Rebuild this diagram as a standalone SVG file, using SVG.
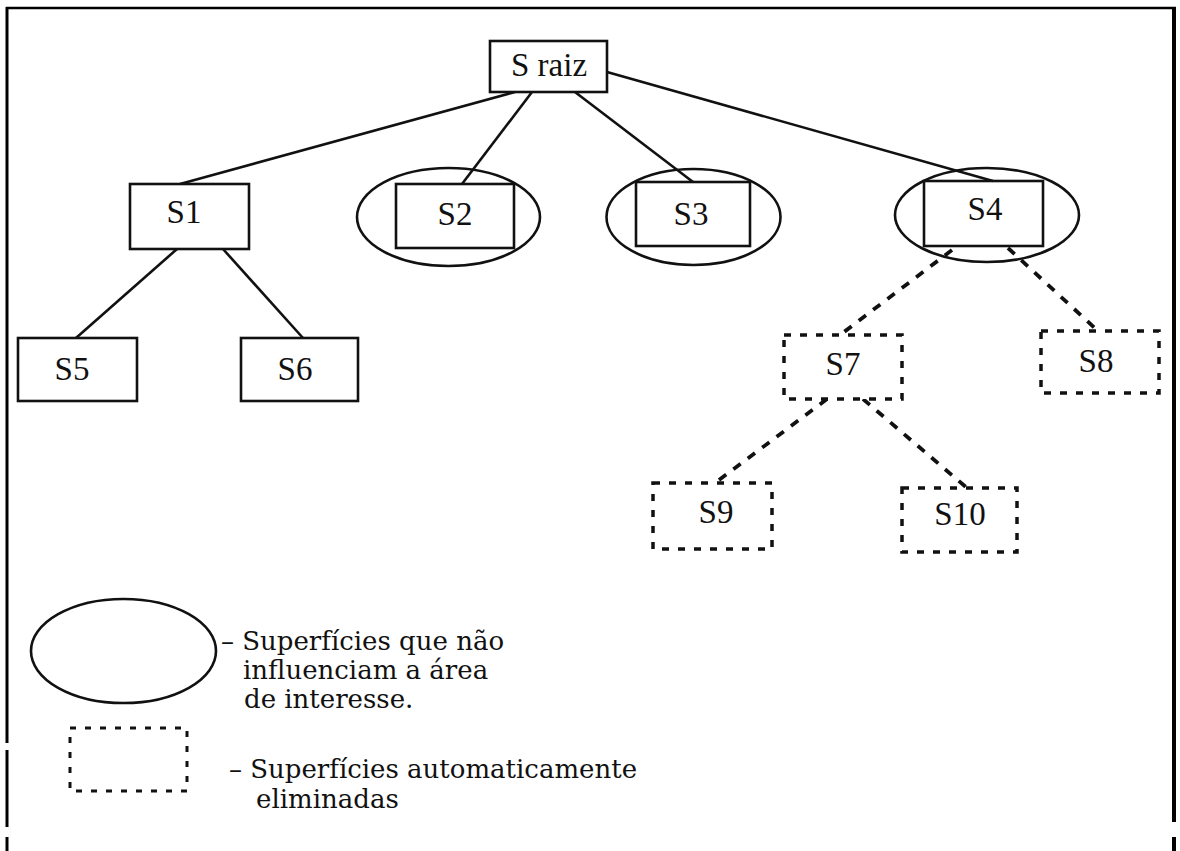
<svg xmlns="http://www.w3.org/2000/svg" width="1180" height="851" viewBox="0 0 1180 851">
  <style>
    .frame { stroke: #000; fill: none; }
    .box { fill: #fff; stroke: #111; stroke-width: 2.6; }
    .oval { fill: none; stroke: #111; stroke-width: 2.6; }
    .dbox { fill: #fff; stroke: #111; stroke-width: 3.5; stroke-dasharray: 7 9; }
    .edge { stroke: #111; stroke-width: 2.6; fill: none; }
    .dedge { stroke: #111; stroke-width: 3.8; fill: none; stroke-dasharray: 9 9; }
    .lbl { font-family: "Liberation Serif", "Times New Roman", serif; font-size: 33px; fill: #111; text-anchor: middle; }
    .leg { font-family: "DejaVu Serif", "Liberation Serif", serif; font-size: 26px; fill: #111; }
  </style>

  <rect width="1180" height="851" fill="#fff"/>

  <!-- outer frame -->
  <g id="frame" class="frame">
    <line x1="6" y1="8" x2="1176" y2="8" stroke-width="2.5"/>
    <line x1="7" y1="7" x2="7" y2="743" stroke-width="3"/>
    <line x1="7" y1="750" x2="7" y2="827" stroke-width="3"/>
    <line x1="7" y1="837" x2="7" y2="851" stroke-width="3"/>
    <line x1="1174" y1="7" x2="1174" y2="822" stroke-width="4"/>
    <line x1="1174" y1="837" x2="1174" y2="851" stroke-width="4"/>
  </g>

  <!-- connectors -->
  <g id="connectors">
    <line class="edge" x1="515" y1="92" x2="180" y2="184"/>
    <line class="edge" x1="532" y1="92" x2="462" y2="184"/>
    <line class="edge" x1="575" y1="92" x2="693" y2="182"/>
    <line class="edge" x1="607" y1="72" x2="993" y2="181"/>
    <line class="edge" x1="177" y1="249" x2="76" y2="338"/>
    <line class="edge" x1="223" y1="249" x2="303" y2="338"/>
    <line class="dedge" x1="952" y1="250" x2="840" y2="335"/>
    <line class="dedge" x1="1008" y1="248" x2="1098" y2="331"/>
    <line class="dedge" x1="827" y1="399" x2="715" y2="483"/>
    <line class="dedge" x1="863" y1="399" x2="967" y2="488"/>
  </g>

  <!-- nodes -->
  <g id="node-sraiz">
    <rect class="box" x="490" y="41" width="117" height="51"/>
    <text class="lbl" x="549" y="76">S raiz</text>
  </g>
  <g id="node-s1">
    <rect class="box" x="130" y="184" width="119" height="65"/>
    <text class="lbl" x="184" y="223">S1</text>
  </g>
  <g id="node-s2">
    <ellipse class="oval" cx="448.5" cy="217" rx="91.5" ry="49"/>
    <rect class="box" x="396" y="184" width="118" height="64"/>
    <text class="lbl" x="455" y="225">S2</text>
  </g>
  <g id="node-s3">
    <ellipse class="oval" cx="693.5" cy="217" rx="87" ry="48"/>
    <rect class="box" x="636" y="182" width="114" height="64"/>
    <text class="lbl" x="691" y="225">S3</text>
  </g>
  <g id="node-s4">
    <ellipse class="oval" cx="987" cy="215" rx="92" ry="47"/>
    <rect class="box" x="924" y="181" width="119" height="65" style="fill:none"/>
    <text class="lbl" x="985" y="220">S4</text>
  </g>
  <g id="node-s5">
    <rect class="box" x="18" y="338" width="119" height="63"/>
    <text class="lbl" x="72" y="380">S5</text>
  </g>
  <g id="node-s6">
    <rect class="box" x="241" y="338" width="117" height="63"/>
    <text class="lbl" x="295" y="380">S6</text>
  </g>
  <g id="node-s7">
    <rect class="dbox" x="784" y="335" width="118" height="64"/>
    <text class="lbl" x="843" y="375">S7</text>
  </g>
  <g id="node-s8">
    <rect class="dbox" x="1041" y="331" width="118" height="62"/>
    <text class="lbl" x="1096" y="372">S8</text>
  </g>
  <g id="node-s9">
    <rect class="dbox" x="653" y="483" width="119" height="66"/>
    <text class="lbl" x="716" y="523">S9</text>
  </g>
  <g id="node-s10">
    <rect class="dbox" x="902" y="488" width="115" height="64"/>
    <text class="lbl" x="960" y="525">S10</text>
  </g>

  <!-- legend -->
  <g id="legend">
    <ellipse class="oval" cx="123.5" cy="651" rx="92.5" ry="52"/>
    <text class="leg" x="221" y="650">– Superfícies que não</text>
    <text class="leg" x="243" y="679">influenciam a  área</text>
    <text class="leg" x="244" y="708">de interesse.</text>
    <rect class="dbox" x="70" y="728" width="117" height="63" style="stroke-width:3;stroke-dasharray:6 9"/>
    <text class="leg" x="229" y="778">– Superfícies automaticamente</text>
    <text class="leg" x="256" y="808">eliminadas</text>
  </g>
</svg>
